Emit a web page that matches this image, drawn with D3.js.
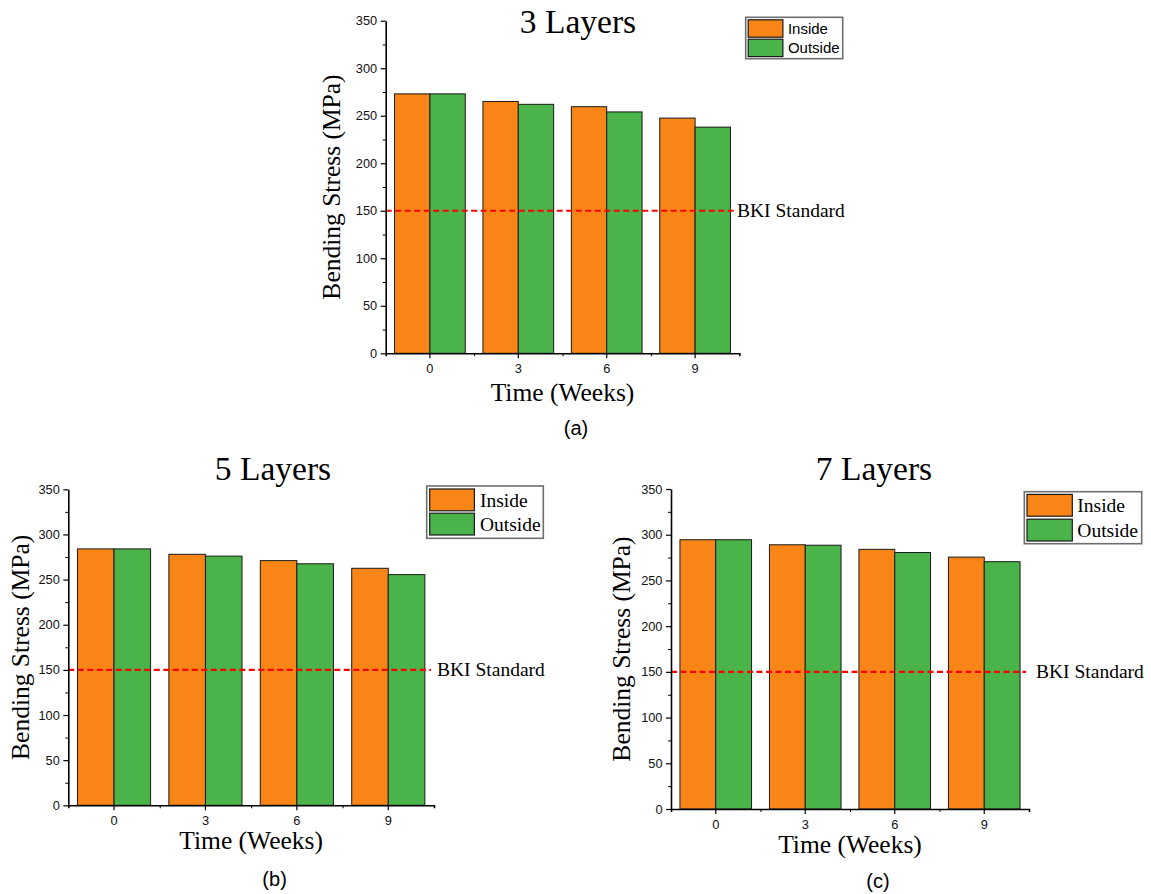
<!DOCTYPE html>
<html>
<head>
<meta charset="utf-8">
<script src="https://cdn.jsdelivr.net/npm/d3@7/dist/d3.min.js"></script>
<style>
  html, body { margin: 0; padding: 0; background: #fff; }
  svg { display: block; }
</style>
</head>
<body>
<svg id="chart" width="1151" height="894"></svg>
<script>
// ---------------- DATA ----------------
const categories = ["0", "3", "6", "9"];           // Time (Weeks)
const series = ["Inside", "Outside"];
const inside3  = [273, 265, 259.5, 247.5];
const outside3 = [273, 262, 254, 238];
const inside5  = [284, 278, 271, 262.5];
const outside5 = [284, 276, 267.5, 255.5];
const inside7  = [294.5, 289, 284, 275.5];
const outside7 = [294.5, 288.5, 280.5, 270.5];
const yTicks = [0, 50, 100, 150, 200, 250, 300, 350];
const yMinorTicks = [25, 75, 125, 175, 225, 275, 325];
const standardValue = 150;
const standardLabel = "BKI Standard";
const titles = ["3 Layers", "5 Layers", "7 Layers"];
const panelLabels = ["(a)", "(b)", "(c)"];
const xTitle = "Time (Weeks)";
const yTitle = "Bending Stress (MPa)";

// ---------------- LAYOUT ----------------
const colors = { Inside: "#F98517", Outside: "#4AB34A" };
const serif = "'Liberation Serif', 'Times New Roman', Times, serif";
const sans = "'Liberation Sans', Arial, Helvetica, sans-serif";

const panels = [
  { title: titles[0], label: panelLabels[0], inside: inside3, outside: outside3,
    x0: 385.7, x1: 739.3, yTop: 20.7, yBot: 353.3,
    titleX: 578, titleY: 33, yLabX: 339.5, xLabY: 400.5, subX: 576, subY: 435,
    bkiX: 737, legend: { x: 745.7, y: 17.3, w: 97, h: 41.4, sw: 34.7, sh: 17.4, font: sans, fs: 15, pad: 2.5, gap: 2, tx: 5 } },
  { title: titles[1], label: panelLabels[1], inside: inside5, outside: outside5,
    x0: 68.3, x1: 434, yTop: 489.3, yBot: 805.3,
    titleX: 273, titleY: 480, yLabX: 28.5, xLabY: 848.5, subX: 274.6, subY: 886,
    bkiX: 437, legend: { x: 426.7, y: 486, w: 116.6, h: 52.3, sw: 44.7, sh: 21.8, font: serif, fs: 19.5, pad: 3, gap: 2.4, tx: 5.5 } },
  { title: titles[2], label: panelLabels[2], inside: inside7, outside: outside7,
    x0: 671, x1: 1029, yTop: 489, yBot: 809,
    titleX: 874, titleY: 480, yLabX: 629.5, xLabY: 853, subX: 878, subY: 888,
    bkiX: 1036, legend: { x: 1024.3, y: 491.7, w: 117.4, h: 52, sw: 45.3, sh: 21.8, font: serif, fs: 19.5, pad: 2.7, gap: 3, tx: 5 } }
];

const svg = d3.select("#chart");

panels.forEach(p => {
  const g = svg.append("g");

  const x = d3.scaleBand().domain(categories).range([p.x0, p.x1])
    .paddingInner(0.2).paddingOuter(0.1);
  const xs = d3.scaleBand().domain(series).range([0, x.bandwidth()]).padding(0);
  const y = d3.scaleLinear().domain([0, 350]).range([p.yBot, p.yTop]);

  const rows = categories.map((c, i) => ({ cat: c, Inside: p.inside[i], Outside: p.outside[i] }));

  // bars
  const grp = g.append("g").selectAll("g").data(rows).join("g")
    .attr("transform", d => `translate(${x(d.cat)},0)`);
  grp.selectAll("rect").data(d => series.map(s => ({ s, v: d[s] }))).join("rect")
    .attr("x", d => xs(d.s))
    .attr("y", d => y(d.v))
    .attr("width", xs.bandwidth())
    .attr("height", d => y(0) - y(d.v))
    .attr("fill", d => colors[d.s])
    .attr("stroke", "#1a1a1a")
    .attr("stroke-width", 1);

  // BKI standard line
  g.append("line")
    .attr("x1", p.x0).attr("x2", p.x1 - 3)
    .attr("y1", y(standardValue)).attr("y2", y(standardValue))
    .attr("stroke", "#FF0000").attr("stroke-width", 2.2)
    .attr("stroke-dasharray", "6,3.5");
  g.append("text")
    .attr("x", p.bkiX).attr("y", y(standardValue) + 6.5)
    .attr("font-family", serif).attr("font-size", 19.5)
    .attr("fill", "#000")
    .text(standardLabel);

  // y axis
  const yAxis = g.append("g").attr("transform", `translate(${p.x0},0)`)
    .call(d3.axisLeft(y).tickValues(yTicks).tickSize(5).tickSizeOuter(0).tickPadding(3.5));
  const yMinor = g.append("g").attr("transform", `translate(${p.x0},0)`)
    .call(d3.axisLeft(y).tickValues(yMinorTicks).tickSize(3).tickFormat(""));
  yMinor.select(".domain").remove();

  // x axis
  const xAxis = g.append("g").attr("transform", `translate(0,${p.yBot})`)
    .call(d3.axisBottom(x).tickSize(5).tickSizeOuter(3).tickPadding(6));
  const xm = d3.scaleLinear().domain([0, categories.length]).range([p.x0, p.x1]);
  const xMinor = g.append("g").attr("transform", `translate(0,${p.yBot})`)
    .call(d3.axisBottom(xm).tickValues(d3.range(1, categories.length)).tickSize(3).tickFormat(""));
  xMinor.select(".domain").remove();

  [yAxis, xAxis].forEach(a => {
    a.select(".domain").attr("stroke", "#000").attr("stroke-width", 1.6);
    a.selectAll(".tick line").attr("stroke", "#000").attr("stroke-width", 1.2);
    a.selectAll(".tick text").attr("font-family", sans).attr("font-size", 12.8).attr("fill", "#111");
  });
  [yMinor, xMinor].forEach(a => a.selectAll(".tick line").attr("stroke", "#000").attr("stroke-width", 1));

  // titles
  g.append("text").attr("x", p.titleX).attr("y", p.titleY)
    .attr("text-anchor", "middle").attr("font-family", serif).attr("font-size", 33.5)
    .text(p.title);
  g.append("text").attr("x", (p.x0 + p.x1) / 2).attr("y", p.xLabY)
    .attr("text-anchor", "middle").attr("font-family", serif).attr("font-size", 25.5)
    .text(xTitle);
  g.append("text")
    .attr("transform", `translate(${p.yLabX},${(p.yTop + p.yBot) / 2}) rotate(-90)`)
    .attr("text-anchor", "middle").attr("font-family", serif).attr("font-size", 25.5)
    .text(yTitle);
  g.append("text").attr("x", p.subX).attr("y", p.subY)
    .attr("text-anchor", "middle").attr("font-family", sans).attr("font-size", 20)
    .text(p.label);

  // legend
  const L = p.legend;
  const lg = g.append("g").attr("transform", `translate(${L.x},${L.y})`);
  lg.append("rect").attr("width", L.w).attr("height", L.h)
    .attr("fill", "#fff").attr("stroke", "#6e6e6e").attr("stroke-width", 1.6);
  series.forEach((s, i) => {
    const sy = L.pad + i * (L.sh + L.gap);
    lg.append("rect").attr("x", L.pad).attr("y", sy)
      .attr("width", L.sw).attr("height", L.sh)
      .attr("fill", colors[s]).attr("stroke", "#1a1a1a").attr("stroke-width", 1.2);
    lg.append("text").attr("x", L.pad + L.sw + L.tx).attr("y", sy + L.sh / 2 + L.fs * 0.35)
      .attr("font-family", L.font).attr("font-size", L.fs).attr("fill", "#000")
      .text(s);
  });
});
</script>
</body>
</html>
